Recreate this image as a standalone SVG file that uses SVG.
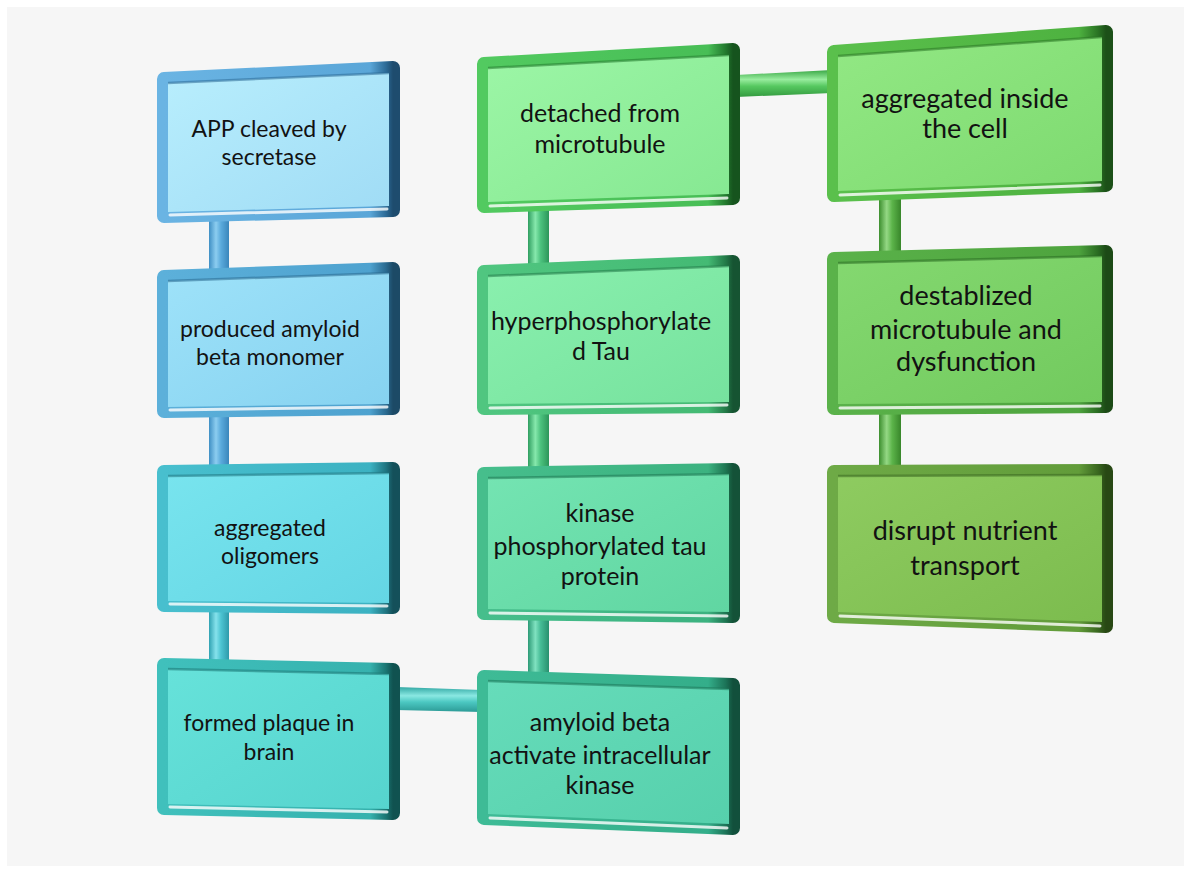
<svg xmlns="http://www.w3.org/2000/svg" width="1184" height="870" viewBox="0 0 1184 870">
<defs>
<style>
.frm{stroke-width:14;stroke-linejoin:round}
.top{fill:none;stroke-width:2.5;stroke-opacity:.55}
.hl{fill:none;stroke:#ffffff;stroke-width:3;stroke-opacity:.8;stroke-linecap:round}
.t{font-family:Lato,"Open Sans","Liberation Sans",sans-serif;fill:#121212;text-anchor:middle}
.s1{font-size:23px}.s2{font-size:25px}.s3{font-size:27px}
</style>
<linearGradient id="f1" x1="0" y1="0" x2="1" y2="0"><stop offset="0" stop-color="#6ab4e3"/><stop offset=".9" stop-color="#5aa6d8"/><stop offset=".97" stop-color="#2c6a96"/><stop offset="1" stop-color="#1e4c6e"/></linearGradient>
<linearGradient id="f2" x1="0" y1="0" x2="1" y2="0"><stop offset="0" stop-color="#5cb0da"/><stop offset=".9" stop-color="#4ea2cf"/><stop offset=".97" stop-color="#2a6a90"/><stop offset="1" stop-color="#1c4a66"/></linearGradient>
<linearGradient id="f3" x1="0" y1="0" x2="1" y2="0"><stop offset="0" stop-color="#48bfce"/><stop offset=".9" stop-color="#3cb2c2"/><stop offset=".97" stop-color="#1f7480"/><stop offset="1" stop-color="#14505a"/></linearGradient>
<linearGradient id="f4" x1="0" y1="0" x2="1" y2="0"><stop offset="0" stop-color="#40c0bc"/><stop offset=".9" stop-color="#36b2ae"/><stop offset=".97" stop-color="#1a7572"/><stop offset="1" stop-color="#105250"/></linearGradient>
<linearGradient id="f5" x1="0" y1="0" x2="1" y2="0"><stop offset="0" stop-color="#52ca60"/><stop offset=".9" stop-color="#48be56"/><stop offset=".97" stop-color="#237a2e"/><stop offset="1" stop-color="#16541e"/></linearGradient>
<linearGradient id="f6" x1="0" y1="0" x2="1" y2="0"><stop offset="0" stop-color="#50c680"/><stop offset=".9" stop-color="#44ba74"/><stop offset=".97" stop-color="#237a48"/><stop offset="1" stop-color="#165432"/></linearGradient>
<linearGradient id="f7" x1="0" y1="0" x2="1" y2="0"><stop offset="0" stop-color="#46be8c"/><stop offset=".9" stop-color="#3cb280"/><stop offset=".97" stop-color="#1e7652"/><stop offset="1" stop-color="#145238"/></linearGradient>
<linearGradient id="f8" x1="0" y1="0" x2="1" y2="0"><stop offset="0" stop-color="#3ebb96"/><stop offset=".9" stop-color="#34ae8a"/><stop offset=".97" stop-color="#1c7458"/><stop offset="1" stop-color="#12503c"/></linearGradient>
<linearGradient id="f9" x1="0" y1="0" x2="1" y2="0"><stop offset="0" stop-color="#5ac04c"/><stop offset=".9" stop-color="#4eb240"/><stop offset=".97" stop-color="#2a7424"/><stop offset="1" stop-color="#1c5018"/></linearGradient>
<linearGradient id="f10" x1="0" y1="0" x2="1" y2="0"><stop offset="0" stop-color="#5ab24a"/><stop offset=".9" stop-color="#4ea43e"/><stop offset=".97" stop-color="#2a6c22"/><stop offset="1" stop-color="#1c4a16"/></linearGradient>
<linearGradient id="f11" x1="0" y1="0" x2="1" y2="0"><stop offset="0" stop-color="#6eaa46"/><stop offset=".9" stop-color="#629c3a"/><stop offset=".97" stop-color="#3a6820"/><stop offset="1" stop-color="#284814"/></linearGradient>
<linearGradient id="c1" x1="0" y1="0" x2="1" y2="1"><stop offset="0" stop-color="#b8eefd"/><stop offset="1" stop-color="#a0dcf5"/></linearGradient>
<linearGradient id="c2" x1="0" y1="0" x2="1" y2="1"><stop offset="0" stop-color="#9ee2f9"/><stop offset="1" stop-color="#86d2f0"/></linearGradient>
<linearGradient id="c3" x1="0" y1="0" x2="1" y2="1"><stop offset="0" stop-color="#78e4ee"/><stop offset="1" stop-color="#64d6e4"/></linearGradient>
<linearGradient id="c4" x1="0" y1="0" x2="1" y2="1"><stop offset="0" stop-color="#66e2da"/><stop offset="1" stop-color="#56d4ce"/></linearGradient>
<linearGradient id="c5" x1="0" y1="0" x2="1" y2="1"><stop offset="0" stop-color="#9cf6a6"/><stop offset="1" stop-color="#86e892"/></linearGradient>
<linearGradient id="c6" x1="0" y1="0" x2="1" y2="1"><stop offset="0" stop-color="#8af0ae"/><stop offset="1" stop-color="#76e29e"/></linearGradient>
<linearGradient id="c7" x1="0" y1="0" x2="1" y2="1"><stop offset="0" stop-color="#74e4b2"/><stop offset="1" stop-color="#60d6a2"/></linearGradient>
<linearGradient id="c8" x1="0" y1="0" x2="1" y2="1"><stop offset="0" stop-color="#66dcba"/><stop offset="1" stop-color="#56d0ac"/></linearGradient>
<linearGradient id="c9" x1="0" y1="0" x2="1" y2="1"><stop offset="0" stop-color="#92e884"/><stop offset="1" stop-color="#7eda70"/></linearGradient>
<linearGradient id="c10" x1="0" y1="0" x2="1" y2="1"><stop offset="0" stop-color="#84d870"/><stop offset="1" stop-color="#72ca5e"/></linearGradient>
<linearGradient id="c11" x1="0" y1="0" x2="1" y2="1"><stop offset="0" stop-color="#8ecb60"/><stop offset="1" stop-color="#7cbc4e"/></linearGradient>
<linearGradient id="vb" x1="0" y1="0" x2="1" y2="0"><stop offset="0" stop-color="#3f8fc4"/><stop offset=".35" stop-color="#8ccdf0"/><stop offset=".6" stop-color="#5aaadc"/><stop offset="1" stop-color="#3a86bb"/></linearGradient>
<linearGradient id="vc" x1="0" y1="0" x2="1" y2="0"><stop offset="0" stop-color="#2fa2b2"/><stop offset=".35" stop-color="#86e2ec"/><stop offset=".6" stop-color="#4cc4d2"/><stop offset="1" stop-color="#2e9aaa"/></linearGradient>
<linearGradient id="vg" x1="0" y1="0" x2="1" y2="0"><stop offset="0" stop-color="#2f9e60"/><stop offset=".35" stop-color="#86e8ac"/><stop offset=".6" stop-color="#4cc27e"/><stop offset="1" stop-color="#2c965a"/></linearGradient>
<linearGradient id="vt" x1="0" y1="0" x2="1" y2="0"><stop offset="0" stop-color="#2c9a76"/><stop offset=".35" stop-color="#80e2c0"/><stop offset=".6" stop-color="#46bc96"/><stop offset="1" stop-color="#28906e"/></linearGradient>
<linearGradient id="vr" x1="0" y1="0" x2="1" y2="0"><stop offset="0" stop-color="#3c8e2e"/><stop offset=".35" stop-color="#94d884"/><stop offset=".6" stop-color="#5cb44a"/><stop offset="1" stop-color="#38862a"/></linearGradient>
<linearGradient id="ht" x1="0" y1="0" x2="0" y2="1"><stop offset="0" stop-color="#32a8a4"/><stop offset=".35" stop-color="#8ae8e2"/><stop offset=".6" stop-color="#4cc8c2"/><stop offset="1" stop-color="#2c9a96"/></linearGradient>
<linearGradient id="hg" x1="0" y1="0" x2="0" y2="1"><stop offset="0" stop-color="#3aa846"/><stop offset=".35" stop-color="#98ec9e"/><stop offset=".6" stop-color="#56c860"/><stop offset="1" stop-color="#349a40"/></linearGradient>
</defs>
<rect width="1184" height="870" fill="#ffffff"/>
<rect x="7" y="7" width="1177" height="859" fill="#f6f6f6"/>

<g id="connectors">
<rect x="209" y="215" width="20" height="60" fill="url(#vb)"/>
<rect x="209" y="410" width="20" height="60" fill="url(#vb)"/>
<rect x="209" y="606" width="20" height="58" fill="url(#vc)"/>
<rect x="528" y="200" width="21" height="70" fill="url(#vg)"/>
<rect x="528" y="408" width="21" height="64" fill="url(#vg)"/>
<rect x="528" y="615" width="21" height="60" fill="url(#vt)"/>
<rect x="879" y="188" width="22" height="68" fill="url(#vr)"/>
<rect x="879" y="408" width="22" height="62" fill="url(#vr)"/>
<path d="M396,687 L482,690 L482,712 L396,710 Z" fill="url(#ht)"/>
<path d="M736,75 L832,70 L832,93 L736,97 Z" fill="url(#hg)"/>
</g>

<g id="n1">
<path class="frm" d="M164,79 L393,68 L393,210 L164,216 Z" fill="url(#f1)" stroke="url(#f1)"/>
<path d="M168,83 L389,73 L389,206 L168,212 Z" fill="url(#c1)"/>
<path class="top" d="M168,83 L389,73" stroke="#2c6a96"/>
<path class="hl" d="M170,215 L387,209"/>
<text class="t s1" x="269" y="137">APP cleaved by</text>
<text class="t s1" x="269" y="165">secretase</text>
</g>
<g id="n2">
<path class="frm" d="M164,277 L393,269 L393,408 L164,411 Z" fill="url(#f2)" stroke="url(#f2)"/>
<path d="M168,281 L389,273 L389,404 L168,407 Z" fill="url(#c2)"/>
<path class="top" d="M168,281 L389,273" stroke="#2a6a90"/>
<path class="hl" d="M170,410 L387,407"/>
<text class="t s1" x="270" y="337">produced amyloid</text>
<text class="t s1" x="270" y="365">beta monomer</text>
</g>
<g id="n3">
<path class="frm" d="M164,472 L393,469 L393,607 L164,605 Z" fill="url(#f3)" stroke="url(#f3)"/>
<path d="M168,476 L389,473 L389,603 L168,601 Z" fill="url(#c3)"/>
<path class="top" d="M168,476 L389,473" stroke="#1f7480"/>
<path class="hl" d="M170,604 L387,606"/>
<text class="t s1" x="270" y="536">aggregated</text>
<text class="t s1" x="270" y="564">oligomers</text>
</g>
<g id="n4">
<path class="frm" d="M164,665 L393,670 L393,813 L164,808 Z" fill="url(#f4)" stroke="url(#f4)"/>
<path d="M168,669 L389,674 L389,809 L168,804 Z" fill="url(#c4)"/>
<path class="top" d="M168,669 L389,674" stroke="#1a7572"/>
<path class="hl" d="M170,807 L387,812"/>
<text class="t s1" x="269" y="731">formed plaque in</text>
<text class="t s1" x="269" y="760">brain</text>
</g>

<g id="n5">
<path class="frm" d="M484,64 L733,50 L733,198 L484,206 Z" fill="url(#f5)" stroke="url(#f5)"/>
<path d="M488,68 L729,55 L729,194 L488,202 Z" fill="url(#c5)"/>
<path class="top" d="M488,68 L729,55" stroke="#237a2e"/>
<path class="hl" d="M490,206 L727,198"/>
<text class="t s2" x="600" y="122">detached from</text>
<text class="t s2" x="600" y="153">microtubule</text>
</g>
<g id="n6">
<path class="frm" d="M484,272 L733,262 L733,406 L484,408 Z" fill="url(#f6)" stroke="url(#f6)"/>
<path d="M488,276 L729,266 L729,402 L488,404 Z" fill="url(#c6)"/>
<path class="top" d="M488,276 L729,266" stroke="#237a48"/>
<path class="hl" d="M490,408 L727,405"/>
<text class="t s2" x="601" y="330">hyperphosphorylate</text>
<text class="t s2" x="601" y="360">d Tau</text>
</g>
<g id="n7">
<path class="frm" d="M484,474 L733,470 L733,616 L484,613 Z" fill="url(#f7)" stroke="url(#f7)"/>
<path d="M488,478 L729,474 L729,612 L488,609 Z" fill="url(#c7)"/>
<path class="top" d="M488,478 L729,474" stroke="#1e7652"/>
<path class="hl" d="M490,613 L727,616"/>
<text class="t s2" x="600" y="522">kinase</text>
<text class="t s2" x="600" y="555">phosphorylated tau</text>
<text class="t s2" x="600" y="585">protein</text>
</g>
<g id="n8">
<path class="frm" d="M484,677 L733,685 L733,828 L484,818 Z" fill="url(#f8)" stroke="url(#f8)"/>
<path d="M488,681 L729,689 L729,824 L488,814 Z" fill="url(#c8)"/>
<path class="top" d="M488,681 L729,689" stroke="#1c7458"/>
<path class="hl" d="M490,818 L727,828"/>
<text class="t s2" x="600" y="731">amyloid beta</text>
<text class="t s2" x="600" y="764">activate intracellular</text>
<text class="t s2" x="600" y="794">kinase</text>
</g>

<g id="n9">
<path class="frm" d="M834,52 L1106,32 L1106,185 L834,195 Z" fill="url(#f9)" stroke="url(#f9)"/>
<path d="M838,56 L1102,37 L1102,181 L838,191 Z" fill="url(#c9)"/>
<path class="top" d="M838,56 L1102,37" stroke="#2a7424"/>
<path class="hl" d="M840,195 L1100,185"/>
<text class="t s3" x="965" y="108">aggregated inside</text>
<text class="t s3" x="965" y="138">the cell</text>
</g>
<g id="n10">
<path class="frm" d="M834,259 L1106,252 L1106,406 L834,408 Z" fill="url(#f10)" stroke="url(#f10)"/>
<path d="M838,263 L1102,256 L1102,402 L838,404 Z" fill="url(#c10)"/>
<path class="top" d="M838,263 L1102,256" stroke="#2a6c22"/>
<path class="hl" d="M840,408 L1100,406"/>
<text class="t s3" x="966" y="305">destablized</text>
<text class="t s3" x="966" y="339">microtubule and</text>
<text class="t s3" x="966" y="371">dysfunction</text>
</g>
<g id="n11">
<path class="frm" d="M834,472 L1106,471 L1106,626 L834,616 Z" fill="url(#f11)" stroke="url(#f11)"/>
<path d="M838,476 L1102,475 L1102,622 L838,612 Z" fill="url(#c11)"/>
<path class="top" d="M838,476 L1102,475" stroke="#3a6820"/>
<path class="hl" d="M840,616 L1100,626"/>
<text class="t s3" x="965" y="540">disrupt nutrient</text>
<text class="t s3" x="965" y="575">transport</text>
</g>
</svg>
